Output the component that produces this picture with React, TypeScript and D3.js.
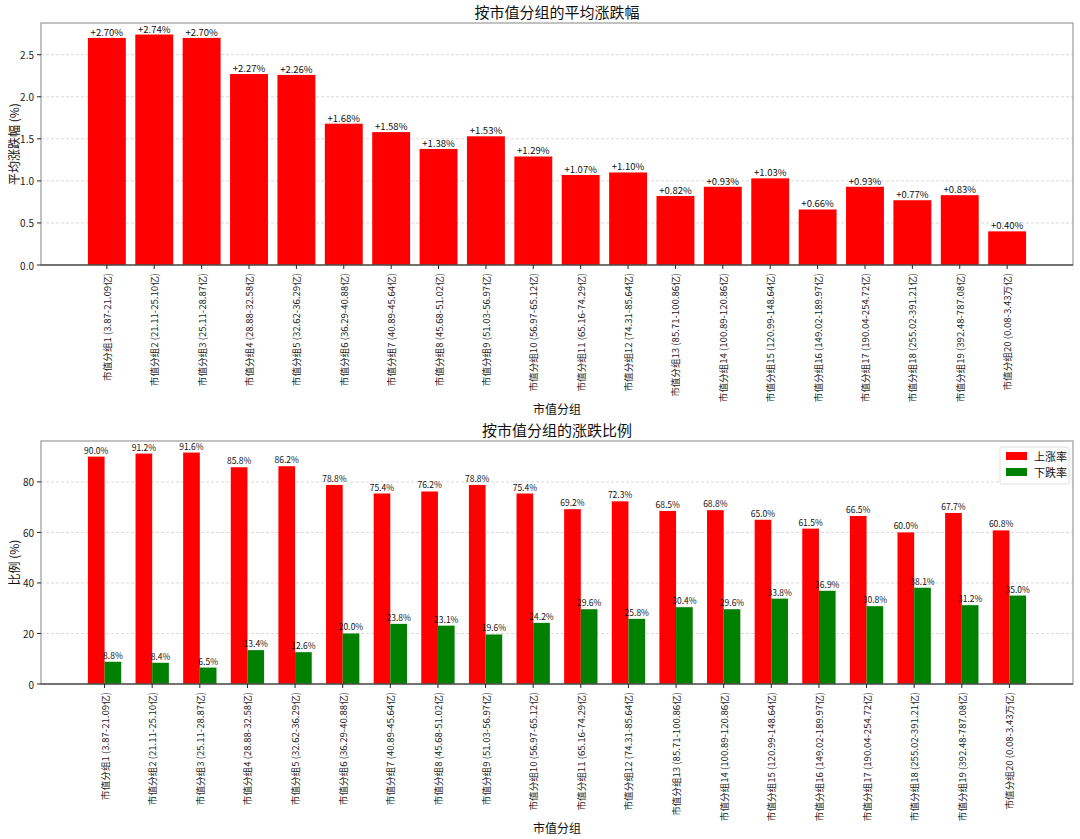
import React from "react";
import * as d3 from "d3";

// ---------------------------------------------------------------------------
// DATA
// ---------------------------------------------------------------------------
const groupRanges: string[] = [
  "3.87-21.09亿",
  "21.11-25.10亿",
  "25.11-28.87亿",
  "28.88-32.58亿",
  "32.62-36.29亿",
  "36.29-40.88亿",
  "40.89-45.64亿",
  "45.68-51.02亿",
  "51.03-56.97亿",
  "56.97-65.12亿",
  "65.16-74.29亿",
  "74.31-85.64亿",
  "85.71-100.86亿",
  "100.89-120.86亿",
  "120.99-148.64亿",
  "149.02-189.97亿",
  "190.04-254.72亿",
  "255.02-391.21亿",
  "392.48-787.08亿",
  "0.08-3.43万亿",
];
const categories: string[] = groupRanges.map((r, i) => `市值分组${i + 1} (${r})`);

const avgChange: number[] = [
  2.7, 2.74, 2.7, 2.27, 2.26, 1.68, 1.58, 1.38, 1.53, 1.29, 1.07, 1.1, 0.82,
  0.93, 1.03, 0.66, 0.93, 0.77, 0.83, 0.4,
];
const upRatio: number[] = [
  90.0, 91.2, 91.6, 85.8, 86.2, 78.8, 75.4, 76.2, 78.8, 75.4, 69.2, 72.3, 68.5,
  68.8, 65.0, 61.5, 66.5, 60.0, 67.7, 60.8,
];
const downRatio: number[] = [
  8.8, 8.4, 6.5, 13.4, 12.6, 20.0, 23.8, 23.1, 19.6, 24.2, 29.6, 25.8, 30.4,
  29.6, 33.8, 36.9, 30.8, 38.1, 31.2, 35.0,
];
const avgTicks: number[] = [0, 0.5, 1.0, 1.5, 2.0, 2.5];
const ratioTicks: number[] = [0, 20, 40, 60, 80];

const FONT = "'Noto Sans CJK SC', 'Noto Sans', sans-serif";
const W = 1080;
const H = 839;
const plotLeft = 41;
const plotRight = 1073;

interface FrameProps {
  top: number;
  bottom: number;
  y: d3.ScaleLinear<number, number>;
  x: d3.ScaleLinear<number, number>;
  yTicks: number[];
  yFmt: (v: number) => string;
  title: string;
  yLabel: string;
  children?: React.ReactNode;
}

// axes, grid, tick labels, titles -- bars are passed as children
function Frame({ top, bottom, y, x, yTicks, yFmt, title, yLabel, children }: FrameProps) {
  return (
    <g>
      {yTicks.slice(1).map((t) => (
        <line
          key={"g" + t}
          x1={plotLeft}
          x2={plotRight}
          y1={y(t)}
          y2={y(t)}
          stroke="#d0d0d0"
          strokeWidth={0.8}
          strokeDasharray="3,2"
        />
      ))}
      {children}
      {/* spines */}
      <rect
        x={plotLeft}
        y={top}
        width={plotRight - plotLeft}
        height={bottom - top}
        fill="none"
        stroke="#999"
        strokeWidth={1.2}
      />
      <line x1={plotLeft} x2={plotRight} y1={bottom} y2={bottom} stroke="#222" strokeWidth={1.2} />
      {/* y ticks */}
      {yTicks.map((t) => (
        <g key={"y" + t}>
          <line x1={plotLeft - 4} x2={plotLeft} y1={y(t)} y2={y(t)} stroke="#222" />
          <text
            x={plotLeft - 7}
            y={y(t)}
            textAnchor="end"
            dominantBaseline="central"
            fontSize={10}
            fill="#222"
          >
            {yFmt(t)}
          </text>
        </g>
      ))}
      {/* x ticks */}
      {categories.map((c, i) => (
        <g key={"x" + i}>
          <line x1={x(i)} x2={x(i)} y1={bottom} y2={bottom + 4} stroke="#222" />
          <text
            transform={`translate(${x(i)},${bottom + 8}) rotate(-90)`}
            textAnchor="end"
            dominantBaseline="central"
            fontSize={9.6}
            fill="#222"
          >
            {c}
          </text>
        </g>
      ))}
      <text x={(plotLeft + plotRight) / 2} y={top - 5} textAnchor="middle" fontSize={15} fill="#111">
        {title}
      </text>
      <text
        x={(plotLeft + plotRight) / 2}
        y={bottom + 149}
        textAnchor="middle"
        fontSize={12}
        fill="#111"
      >
        市值分组
      </text>
      <text
        transform={`translate(13,${(top + bottom) / 2}) rotate(-90)`}
        textAnchor="middle"
        dominantBaseline="central"
        fontSize={12}
        fill="#111"
      >
        {yLabel}
      </text>
    </g>
  );
}

export default function App() {
  // ---- top chart: average change ----
  const t1 = { top: 23, bottom: 265 };
  const x1 = d3.scaleLinear().domain([-1.39, 20.39]).range([plotLeft, plotRight]);
  const y1 = d3
    .scaleLinear()
    .domain([0, (d3.max(avgChange) ?? 0) * 1.05])
    .range([t1.bottom, t1.top]);
  const bw1 = x1(0.8) - x1(0);

  // ---- bottom chart: up / down ratio ----
  const t2 = { top: 441, bottom: 684 };
  const x2 = d3.scaleLinear().domain([-1.335, 20.335]).range([plotLeft, plotRight]);
  const y2 = d3
    .scaleLinear()
    .domain([0, (d3.max(upRatio) ?? 0) * 1.05])
    .range([t2.bottom, t2.top]);
  const bw2 = x2(0.35) - x2(0);

  return (
    <svg
      width={W}
      height={H}
      style={{ position: "absolute", left: 0, top: 0, background: "#fff", fontFamily: FONT }}
    >
      <rect width={W} height={H} fill="#fff" />
      <Frame
        top={t1.top}
        bottom={t1.bottom}
        x={x1}
        y={y1}
        yTicks={avgTicks}
        yFmt={(v) => v.toFixed(1)}
        title="按市值分组的平均涨跌幅"
        yLabel="平均涨跌幅 (%)"
      >
        {avgChange.map((v, i) => (
          <g key={i}>
            <rect x={x1(i) - bw1 / 2} y={y1(v)} width={bw1} height={y1(0) - y1(v)} fill="#ff0000" />
            <text x={x1(i)} y={y1(v) - 2} textAnchor="middle" fontSize={9.5} fill="#111">
              {`+${v.toFixed(2)}%`}
            </text>
          </g>
        ))}
      </Frame>

      <Frame
        top={t2.top}
        bottom={t2.bottom}
        x={x2}
        y={y2}
        yTicks={ratioTicks}
        yFmt={(v) => String(v)}
        title="按市值分组的涨跌比例"
        yLabel="比例 (%)"
      >
        {upRatio.map((v, i) => (
          <g key={"u" + i}>
            <rect x={x2(i) - bw2} y={y2(v)} width={bw2} height={y2(0) - y2(v)} fill="#ff0000" />
            <text x={x2(i) - bw2 / 2} y={y2(v) - 3} textAnchor="middle" fontSize={8.5} fill="#111">
              {`${v.toFixed(1)}%`}
            </text>
          </g>
        ))}
        {downRatio.map((v, i) => (
          <g key={"d" + i}>
            <rect x={x2(i)} y={y2(v)} width={bw2} height={y2(0) - y2(v)} fill="#008000" />
            <text x={x2(i) + bw2 / 2} y={y2(v) - 3} textAnchor="middle" fontSize={8.5} fill="#111">
              {`${v.toFixed(1)}%`}
            </text>
          </g>
        ))}
        {/* legend */}
        <g>
          <rect x={1000} y={447} width={69} height={37} fill="#fff" stroke="#ddd" rx={2} />
          <rect x={1006} y={452} width={21} height={8} fill="#ff0000" />
          <text x={1034} y={456} dominantBaseline="central" fontSize={11} fill="#111">
            上涨率
          </text>
          <rect x={1006} y={468} width={21} height={8} fill="#008000" />
          <text x={1034} y={472} dominantBaseline="central" fontSize={11} fill="#111">
            下跌率
          </text>
        </g>
      </Frame>
    </svg>
  );
}
